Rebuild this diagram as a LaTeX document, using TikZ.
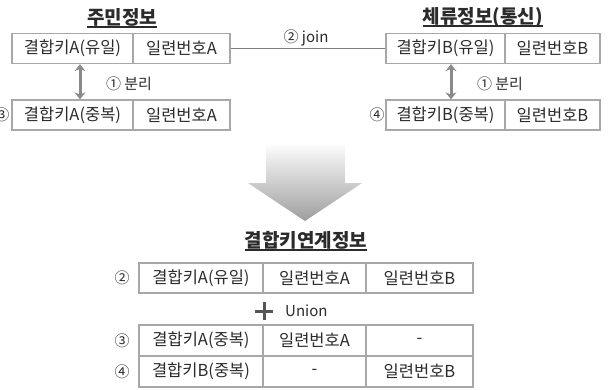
\documentclass[tikz,border=0pt]{standalone}
\usepackage{fontspec}
\setmainfont{Noto Sans CJK KR}
\usetikzlibrary{arrows.meta}
\definecolor{txt}{HTML}{2B2B2B}
\definecolor{bord}{HTML}{A8A8A8}
\definecolor{lin}{HTML}{7F7F7F}
\definecolor{arr}{HTML}{8A8A8A}
\begin{document}
\begin{tikzpicture}[x=1pt,y=-1pt,
  cell/.style={draw=bord, line width=1.3pt, inner sep=0pt, font=\fontsize{16.5}{19}\selectfont, text=txt},
  ttl/.style={font=\fontsize{19}{22}\selectfont\bfseries, text=txt, inner sep=0pt},
  lbl/.style={font=\fontsize{15}{17}\selectfont, text=txt, inner sep=0pt},
  uline/.style={txt, line width=1.6pt},
  dbl/.style={arr, line width=3pt, {Stealth[length=7pt,width=11pt]}-{Stealth[length=7pt,width=11pt]}},
  joinline/.style={lin, line width=1.3pt},
  bigarrow/.style={top color=white, bottom color=black!38, draw=none},
]
\useasboundingbox (0,0) rectangle (610,389);

% titles
\node[ttl] (t1) at (122,17) {주민정보};
\node[ttl] (t2) at (483,17) {체류정보(통신)};
\node[ttl] (t3) at (306,240) {결합키연계정보};
\foreach \t in {t1,t2,t3}{\draw[uline] ([yshift=-3pt]\t.base west) -- ([yshift=-3pt]\t.base east);}

% top-left tables
\node[cell, minimum width=121pt, minimum height=30pt] (a1) at (72.5,48.5) {결합키A(유일)};
\node[cell, minimum width=97pt, minimum height=30pt] (a2) at (181.5,48.5) {일련번호A};
\node[cell, minimum width=121pt, minimum height=30pt] (a3) at (72.5,115) {결합키A(중복)};
\node[cell, minimum width=97pt, minimum height=30pt] (a4) at (181.5,115) {일련번호A};

% top-right tables
\node[cell, minimum width=119pt, minimum height=30pt] (b1) at (445.5,48.5) {결합키B(유일)};
\node[cell, minimum width=95pt, minimum height=30pt] (b2) at (552.5,48.5) {일련번호B};
\node[cell, minimum width=119pt, minimum height=30pt] (b3) at (445.5,115) {결합키B(중복)};
\node[cell, minimum width=95pt, minimum height=30pt] (b4) at (552.5,115) {일련번호B};

% join
\draw[joinline] (a2.east) -- (b1.west);
\node[lbl] (jl) at (306,38) {② join};

% split arrows
\coordinate (ax) at (80,0);
\coordinate (bx) at (451,0);
\draw[dbl] (ax |- a1.south) -- (ax |- a3.north);
\draw[dbl] (bx |- b1.south) -- (bx |- b3.north);
\node[lbl] (s1) at (129,84) {① 분리};
\node[lbl] (s2) at (500,84) {① 분리};
\node[lbl] (n3a) at (2,115) {③};
\node[lbl] (n4a) at (377,115) {④};

% big arrow
\path[bigarrow] (266,142) -- (345,142) -- (345,183) -- (362,183) -- (305,221) -- (248,183) -- (266,183) -- cycle;

% bottom table
\node[cell, minimum width=124pt, minimum height=30pt] (c11) at (201,278) {결합키A(유일)};
\node[cell, minimum width=103pt, minimum height=30pt] (c12) at (314.5,278) {일련번호A};
\node[cell, minimum width=107pt, minimum height=30pt] (c13) at (419.5,278) {일련번호B};
\node[cell, minimum width=124pt, minimum height=31pt] (c31) at (201,340.5) {결합키A(중복)};
\node[cell, minimum width=103pt, minimum height=31pt] (c32) at (314.5,340.5) {일련번호A};
\node[cell, minimum width=107pt, minimum height=31pt] (c33) at (419.5,340.5) {-};
\node[cell, minimum width=124pt, minimum height=31pt] (c41) at (201,371.5) {결합키B(중복)};
\node[cell, minimum width=103pt, minimum height=31pt] (c42) at (314.5,371.5) {-};
\node[cell, minimum width=107pt, minimum height=31pt] (c43) at (419.5,371.5) {일련번호B};
\node[lbl] (n2) at (122,278) {②};
\node[lbl] (n3) at (122,340.5) {③};
\node[lbl] (n4) at (122,371.5) {④};

% union
\coordinate (pc) at (264,311);
\draw[txt!80, line width=3pt] ([xshift=-9pt]pc) -- ([xshift=9pt]pc);
\draw[txt!80, line width=3pt] ([yshift=-9pt]pc) -- ([yshift=9pt]pc);
\node[lbl, anchor=west] (un) at (285,311) {Union};
\end{tikzpicture}
\end{document}
